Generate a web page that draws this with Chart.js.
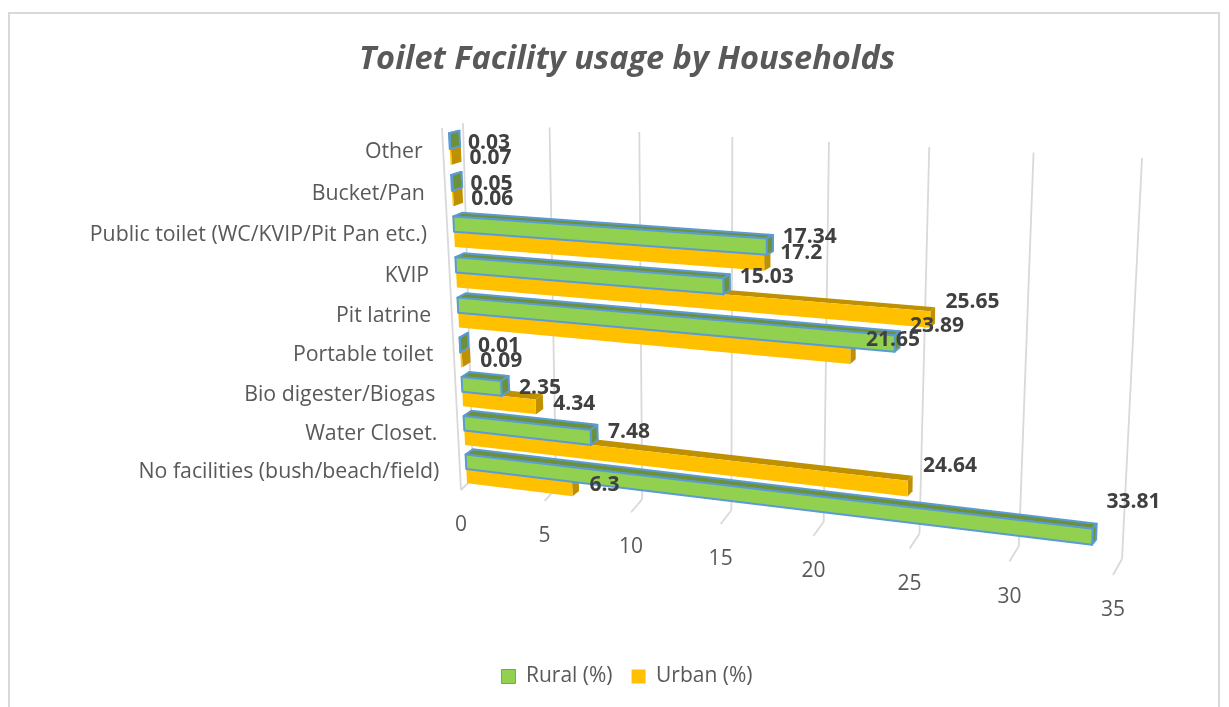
<!DOCTYPE html>
<html>
<head>
<meta charset="utf-8">
<title>Toilet Facility usage by Households</title>
<script src="https://cdn.jsdelivr.net/npm/chart.js@4/dist/chart.umd.js"></script>
<style>
  html, body { margin: 0; padding: 0; background: #fff; overflow: hidden; }
  #frame { position: absolute; left: 8px; top: 12px; width: 1208px; height: 720px; border: 2px solid #d9d9d9; }
  #wrap { position: absolute; left: 0; top: 0; width: 1229px; height: 707px; }
</style>
</head>
<body>
<div id="frame"></div>
<div id="wrap"><canvas id="chart"></canvas></div>
<script>
// Chart values, top row first
const categories = ['Other', 'Bucket/Pan', 'Public toilet (WC/KVIP/Pit Pan etc.)', 'KVIP', 'Pit latrine',
  'Portable toilet', 'Bio digester/Biogas', 'Water Closet.', 'No facilities (bush/beach/field)'];
const ruralValues = [0.03, 0.05, 17.34, 15.03, 23.89, 0.01, 2.35, 7.48, 33.81];
const urbanValues = [0.07, 0.06, 17.2, 25.65, 21.65, 0.09, 4.34, 24.64, 6.3];

const textColor = '#595959';
const labelColor = '#404040';
const gridColor = '#d9d9d9';
const darkFace = { '#92d050': '#6b9139', '#ffc000': '#bf9000' };

// Builds a perspective mapping from the unit square to a quad (TL, TR, BR, BL)
function quadMap(q) {
  const [p0, p1, p2, p3] = q;
  const dx1 = p1[0] - p2[0], dx2 = p3[0] - p2[0], sx = p0[0] - p1[0] + p2[0] - p3[0];
  const dy1 = p1[1] - p2[1], dy2 = p3[1] - p2[1], sy = p0[1] - p1[1] + p2[1] - p3[1];
  const det = dx1 * dy2 - dx2 * dy1;
  const g = (sx * dy2 - dx2 * sy) / det;
  const h = (dx1 * sy - sx * dy1) / det;
  const a = p1[0] - p0[0] + g * p1[0], b = p3[0] - p0[0] + h * p3[0], c = p0[0];
  const d = p1[1] - p0[1] + g * p1[1], e = p3[1] - p0[1] + h * p3[1], f = p0[1];
  return (u, v) => {
    const w = g * u + h * v + 1;
    return [(a * u + b * v + c) / w, (d * u + e * v + f) / w];
  };
}

// The planes of the 3D look
const frontPlane = quadMap([[448.7, 128], [1134, 164], [1116, 569], [467.3, 488]]);
const backPlane = quadMap([[458.7, 125.5], [1136.3, 162], [1120, 564], [474.3, 482.5]]);
const wallPlane = quadMap([[463, 123], [1142, 158], [1122, 559], [473, 478]]);
const labelPlane = quadMap([[466, 129.5], [1144, 148.5], [1132, 531.5], [484, 489.5]]);

function toUnit(chart, px, py) {
  const area = chart.chartArea;
  return [(px - area.left) / area.width, (py - area.top) / area.height];
}

function fillFace(ctx, pts, fill, stroke, width) {
  ctx.beginPath();
  pts.forEach((p, i) => (i ? ctx.lineTo(p[0], p[1]) : ctx.moveTo(p[0], p[1])));
  ctx.closePath();
  ctx.fillStyle = fill;
  ctx.fill();
  if (width > 0) {
    ctx.strokeStyle = stroke;
    ctx.lineWidth = width;
    ctx.lineJoin = 'round';
    ctx.stroke();
  }
}

// Bars keep their scale positions and only get drawn as boxes in perspective
Chart.BarElement.prototype.draw = function (ctx) {
  const chart = Chart.getChart(ctx.canvas);
  const { x, y, base, height } = this.getProps(['x', 'y', 'base', 'height'], true);
  const opts = this.options;
  const [u0, v0] = toUnit(chart, base, y - height / 2);
  const [u1, v1] = toUnit(chart, x, y + height / 2);
  const fill = opts.backgroundColor;
  const dark = darkFace[fill];
  const bw = opts.borderWidth.top !== undefined ? opts.borderWidth.top : opts.borderWidth;
  ctx.save();
  fillFace(ctx, [frontPlane(u0, v0), frontPlane(u1, v0), backPlane(u1, v0), backPlane(u0, v0)], dark, opts.borderColor, bw);
  fillFace(ctx, [frontPlane(u1, v0), backPlane(u1, v0), backPlane(u1, v1), frontPlane(u1, v1)], dark, opts.borderColor, bw);
  fillFace(ctx, [frontPlane(u0, v0), frontPlane(u1, v0), frontPlane(u1, v1), frontPlane(u0, v1)], fill, opts.borderColor, bw);
  ctx.restore();
};

const perspectivePlugin = {
  id: 'perspective',
  beforeDatasetsDraw(chart) {
    const ctx = chart.ctx;
    const xScale = chart.scales.x;
    const yScale = chart.scales.y;
    ctx.save();
    ctx.strokeStyle = gridColor;
    ctx.lineWidth = 1.8;

    const line = (a, b) => {
      ctx.beginPath();
      ctx.moveTo(a[0], a[1]);
      ctx.lineTo(b[0], b[1]);
      ctx.stroke();
    };
    line([442, 128], [461, 490]);

    ctx.fillStyle = textColor;
    ctx.textBaseline = 'middle';
    ctx.font = '21px "Open Sans"';
    ctx.textAlign = 'center';
    xScale.ticks.forEach(tick => {
      const [u] = toUnit(chart, xScale.getPixelForValue(tick.value), 0);
      const foot = wallPlane(u, 1);
      // floor tick gets a bit steeper to the right
      const end = [foot[0] - 12 + 3 * u, foot[1] + 12 + 4 * u];
      line(wallPlane(u, 0), foot);
      line(foot, end);
      ctx.fillText(String(tick.value), end[0], end[1] + 35);
    });

    ctx.font = '21.3px "Open Sans"';
    ctx.textAlign = 'right';
    categories.forEach((name, i) => {
      const [, v] = toUnit(chart, 0, yScale.getPixelForValue(i));
      const p = frontPlane(0, v);
      ctx.fillText(name, p[0] - 27, p[1] + 3);
    });
    ctx.restore();
  },
  afterDatasetsDraw(chart) {
    const ctx = chart.ctx;
    ctx.save();
    ctx.font = 'bold 21px "Open Sans"';
    ctx.fillStyle = labelColor;
    ctx.textAlign = 'left';
    ctx.textBaseline = 'middle';
    chart.data.datasets.forEach((ds, di) => {
      chart.getDatasetMeta(di).data.forEach((bar, i) => {
        const [u, v] = toUnit(chart, bar.x, bar.y);
        const x = frontPlane(u, v)[0] + 18 - 4 * u;
        ctx.fillText(String(ds.data[i]), x, labelPlane(u, v)[1]);
      });
    });
    ctx.restore();
  }
};

new Chart(document.getElementById('chart'), {
  type: 'bar',
  data: {
    labels: categories,
    datasets: [
      { label: 'Rural (%)', data: ruralValues, backgroundColor: '#92d050', borderColor: '#5b9bd5', borderWidth: 2 },
      { label: 'Urban (%)', data: urbanValues, backgroundColor: '#ffc000', borderColor: '#ffc000', borderWidth: 0 }
    ]
  },
  options: {
    indexAxis: 'y',
    responsive: true,
    maintainAspectRatio: false,
    animation: false,
    datasets: { bar: { barPercentage: 1, categoryPercentage: 0.75 } },
    layout: { padding: { left: 25, bottom: 10, top: 40 } },
    scales: {
      x: { display: false, min: 0, max: 35, ticks: { stepSize: 5 } },
      y: { display: false }
    },
    plugins: {
      title: {
        display: true,
        text: 'Toilet Facility usage by Households',
        color: textColor,
        font: { family: '"Open Sans"', size: 32.5, weight: 'bold', style: 'italic' },
        padding: { top: 0, bottom: 10 }
      },
      legend: {
        position: 'bottom',
        labels: {
          color: textColor,
          boxWidth: 14,
          boxHeight: 14,
          padding: 19,
          font: { family: '"Open Sans"', size: 21 },
          // thinner box outline than on the bars
          generateLabels: chart => Chart.defaults.plugins.legend.labels.generateLabels(chart)
            .map(item => ({ ...item, lineWidth: item.lineWidth ? 1 : 0 }))
        }
      },
      tooltip: { enabled: false }
    }
  },
  plugins: [perspectivePlugin]
});
</script>
</body>
</html>
